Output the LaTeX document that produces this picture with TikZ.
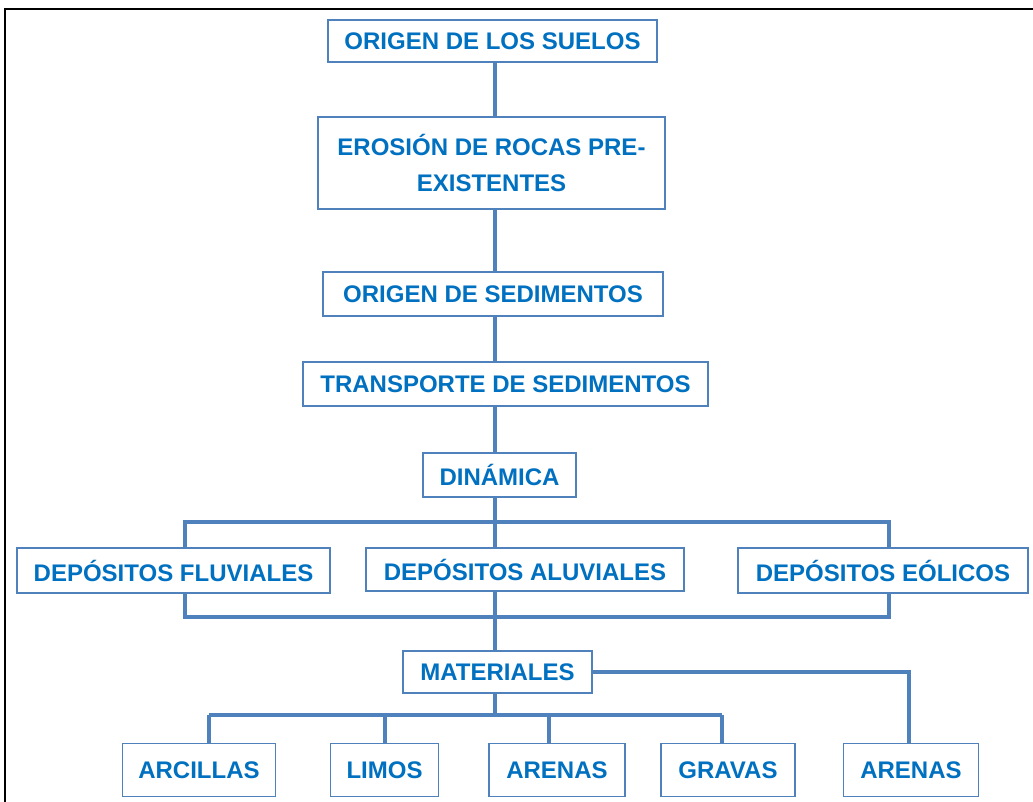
\documentclass[tikz,border=0pt]{standalone}
\usepackage{fontspec}
\setmainfont{Liberation Sans}
\usetikzlibrary{positioning}
\definecolor{boxblue}{RGB}{79,129,189}
\definecolor{txtblue}{RGB}{0,112,192}
\tikzset{x=0.75pt, y=-0.75pt, % one unit is one pixel of the reference
  every node/.style={align=center,
    font=\bfseries\fontsize{18}{27}\selectfont},
         box/.style={ % Sets the properties for each box
           draw=boxblue, line width=1.4pt, fill=white,
           text=txtblue, inner sep=0pt},
         link/.style={ % Sets the properties for each connector
           draw=boxblue, line width=2.4pt},
         frame/.style={draw=black, line width=2pt}}
\begin{document}
\begin{tikzpicture}
  \useasboundingbox (0,0) rectangle (1033,802);
  \draw [frame] (1033,9) -- (5,9) -- (5,802);

  % main chain
  \node [box, minimum width=246.75pt, minimum height=31.5pt] (origen) at (492.5,41) {ORIGEN DE LOS SUELOS};
  \node [box, minimum width=260.25pt, minimum height=69pt] (erosion) at (491.5,163) {EROSIÓN DE ROCAS PRE-\\EXISTENTES};
  \node [box, minimum width=255pt, minimum height=33pt] (sedim) at (493,294) {ORIGEN DE SEDIMENTOS};
  \node [box, minimum width=303.75pt, minimum height=33pt] (transp) at (505.5,384) {TRANSPORTE DE SEDIMENTOS};
  \node [box, minimum width=114.75pt, minimum height=33pt] (dinam) at (499.5,475) {DINÁMICA};

  % deposits
  \node [box, minimum width=234.75pt, minimum height=33.75pt] (fluv) at (173.5,570.5) {DEPÓSITOS FLUVIALES};
  \node [box, minimum width=238.5pt, minimum height=32.25pt] (aluv) at (525,569.5) {DEPÓSITOS ALUVIALES};
  \node [box, minimum width=217.5pt, minimum height=33.75pt] (eol) at (883,570.5) {DEPÓSITOS EÓLICOS};

  \node [box, minimum width=141.75pt, minimum height=31.5pt] (mat) at (497.5,672) {MATERIALES};

  % materials
  \node [box, minimum width=114.75pt, minimum height=39.75pt] (arc) at (199,770) {ARCILLAS};
  \node [box, minimum width=81pt, minimum height=39.75pt] (lim) at (384.5,770) {LIMOS};
  \node [box, minimum width=102pt, minimum height=39.75pt] (are) at (557,770) {ARENAS};
  \node [box, minimum width=100.5pt, minimum height=39.75pt] (gra) at (728,770) {GRAVAS};
  \node [box, minimum width=101.25pt, minimum height=39.75pt] (aretwo) at (911,770) {ARENAS};

  \coordinate (trunk) at (495,0);
  \coordinate (jfl) at (185,522);
  \coordinate (jeo) at (889,522);
  \coordinate (kfl) at (185,617);
  \coordinate (keo) at (889,617);
  \coordinate (jmat) at (909,672);
  \coordinate (jarc) at (209,715);
  \coordinate (jlim) at (385,715);
  \coordinate (jare) at (549,715);
  \coordinate (jgra) at (722,715);

  \draw [link] (origen.south -| trunk) -- (erosion.north -| trunk);
  \draw [link] (erosion.south -| trunk) -- (sedim.north -| trunk);
  \draw [link] (sedim.south -| trunk) -- (transp.north -| trunk);
  \draw [link] (transp.south -| trunk) -- (dinam.north -| trunk);
  \draw [link] (dinam.south -| trunk) -- (aluv.north -| trunk);
  \draw [link] (aluv.south -| trunk) -- (mat.north -| trunk);
  \draw [link] (mat.south -| trunk) -- (jarc -| trunk);

  \draw [link] (fluv.north -| jfl) -- (jfl) -- (jeo) -- (eol.north -| jeo);
  \draw [link] (fluv.south -| kfl) -- (kfl) -- (keo) -- (eol.south -| keo);

  \draw [link] (mat.east |- jmat) -- (jmat) -- (aretwo.north -| jmat);

  \draw [link] (jarc) -- (jgra);
  \draw [link] (jarc) -- (arc.north -| jarc);
  \draw [link] (jlim) -- (lim.north -| jlim);
  \draw [link] (jare) -- (are.north -| jare);
  \draw [link] (jgra) -- (gra.north -| jgra);
\end{tikzpicture}
\end{document}
